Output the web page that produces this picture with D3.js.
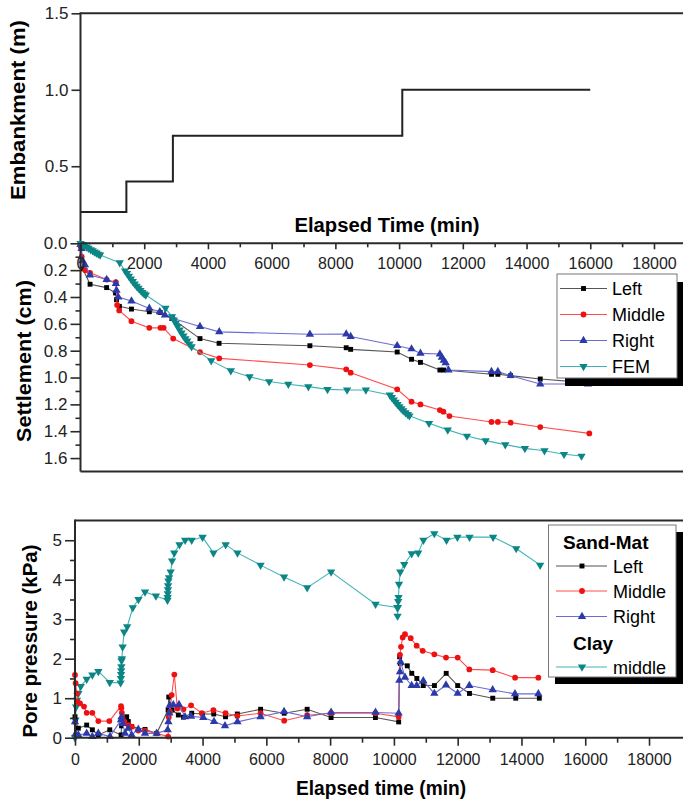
<!DOCTYPE html>
<html>
<head>
<meta charset="utf-8">
<script src="https://cdn.jsdelivr.net/npm/d3@7"></script>
<style>
  body { margin: 0; background: #fff; }
  svg { display: block; font-family: "Liberation Sans", Arial, sans-serif; }
</style>
</head>
<body>
<svg id="chart" width="683" height="805"></svg>
<script>

// ---- embankment height (top panel) ----
const embTime   = [0, 1440, 2900, 10100, 16000];
const embHeight = [0.2, 0.4, 0.7, 1.0, 1.0];

// ---- settlement (middle panel) ----
const setLeftT = [0, 70, 300, 820, 1100, 1130, 1220, 1600, 2160, 2500, 2870, 3750, 4350, 7200, 8340, 8480, 9940, 10390, 10670, 11280, 11400, 12900, 13100, 13500, 14430, 15950];
const setLeftS = [0.02, 0.19, 0.305, 0.33, 0.37, 0.42, 0.47, 0.49, 0.51, 0.515, 0.56, 0.71, 0.745, 0.763, 0.778, 0.79, 0.81, 0.864, 0.887, 0.944, 0.944, 0.976, 0.976, 0.986, 1.011, 1.04];

const setMidT = [0, 40, 150, 300, 820, 1110, 1150, 1215, 1600, 2160, 2510, 2610, 2910, 3750, 4355, 7200, 8340, 8480, 9940, 10390, 10670, 11280, 11390, 11580, 12900, 13100, 13500, 14430, 15970];
const setMidS = [0.02, 0.1, 0.2, 0.22, 0.27, 0.29, 0.46, 0.5, 0.58, 0.63, 0.63, 0.63, 0.71, 0.81, 0.857, 0.907, 0.939, 0.964, 1.088, 1.18, 1.2, 1.242, 1.254, 1.287, 1.331, 1.331, 1.336, 1.369, 1.416];

const setRightT = [0, 35, 60, 140, 295, 820, 1110, 1130, 1185, 1600, 2160, 2490, 2650, 2910, 3750, 4355, 7200, 8340, 8480, 9940, 10390, 10670, 11280, 11340, 11400, 11460, 11550, 12900, 13100, 13500, 14430, 15930];
const setRightS = [0.01, 0.04, 0.13, 0.16, 0.236, 0.27, 0.3, 0.35, 0.4, 0.43, 0.485, 0.51, 0.534, 0.56, 0.62, 0.66, 0.678, 0.676, 0.695, 0.763, 0.787, 0.82, 0.825, 0.85, 0.872, 0.89, 0.944, 0.956, 0.956, 0.986, 1.048, 1.048];

const setFemT = [0, 60, 120, 190, 250, 320, 380, 440, 500, 560, 615, 1230, 1400, 1460, 1520, 1580, 1640, 1700, 1760, 1820, 1880, 1940, 2000, 2050, 2667, 2870, 2930, 2990, 3050, 3110, 3170, 3230, 3290, 3350, 3420, 3487, 4102, 4718, 5306, 5921, 6523, 7152, 7753, 8368, 8957, 9709, 9770, 9830, 9890, 9950, 10010, 10070, 10130, 10200, 10270, 10324, 10940, 11527, 12129, 12717, 13332, 13948, 14563, 15178, 15725];
const setFemS = [0, 0.008, 0.017, 0.027, 0.036, 0.047, 0.055, 0.064, 0.072, 0.08, 0.087, 0.144, 0.205, 0.225, 0.245, 0.265, 0.284, 0.302, 0.32, 0.335, 0.35, 0.365, 0.377, 0.385, 0.484, 0.546, 0.57, 0.595, 0.62, 0.645, 0.668, 0.69, 0.71, 0.728, 0.75, 0.77, 0.874, 0.949, 0.994, 1.03, 1.05, 1.068, 1.088, 1.093, 1.093, 1.13, 1.148, 1.166, 1.183, 1.2, 1.216, 1.232, 1.247, 1.262, 1.275, 1.285, 1.341, 1.39, 1.436, 1.47, 1.5, 1.528, 1.545, 1.572, 1.585];

// ---- pore pressure (bottom panel) ----
const ppLeftT = [0, 10, 105, 366, 544, 732, 1090, 1445, 1460, 1515, 1620, 1672, 1777, 2195, 2560, 2920, 2940, 3044, 3240, 3400, 3660, 4000, 4350, 4720, 5090, 5820, 6560, 7280, 8030, 9420, 10150, 10180, 10200, 10420, 10560, 10720, 10920, 11270, 11640, 12000, 12370, 13100, 13820, 14560];
const ppLeftP = [0.53, 0.4, 0.24, 0.32, 0.2, 0.07, 0.2, 0.07, 0.3, 0.45, 0.53, 0.41, 0.28, 0.21, 0.11, 0.7, 1.03, 0.7, 0.575, 0.52, 0.62, 0.6, 0.6, 0.53, 0.6, 0.72, 0.62, 0.72, 0.51, 0.51, 0.4, 2.05, 1.88, 1.82, 1.63, 1.5, 1.32, 1.32, 1.63, 1.32, 1.12, 1.0, 1.0, 1.0];

const ppMidT = [0, 20, 52, 84, 157, 282, 366, 544, 732, 1076, 1443, 1455, 1470, 1494, 1547, 1672, 1777, 1985, 2195, 2560, 2920, 2940, 2980, 3031, 3115, 3209, 3400, 3640, 3975, 4340, 4720, 5090, 5820, 6560, 7280, 8030, 9420, 10150, 10190, 10223, 10276, 10348, 10527, 10714, 10903, 11268, 11634, 12000, 12365, 13097, 13800, 14530];
const ppMidP = [1.59, 1.38, 1.12, 0.91, 0.87, 0.79, 0.63, 0.63, 0.42, 0.42, 0.8, 0.75, 0.63, 0.49, 0.41, 0.32, 0.28, 0.18, 0.18, 0.11, 0.03, 0.52, 0.66, 1.08, 1.6, 0.74, 0.72, 0.82, 0.62, 0.7, 0.62, 0.55, 0.62, 0.43, 0.57, 0.62, 0.62, 0.53, 2.1, 2.3, 2.54, 2.62, 2.52, 2.33, 2.2, 2.11, 2.03, 2.03, 1.73, 1.71, 1.52, 1.52];

const ppRightT = [0, 20, 105, 366, 544, 732, 1097, 1443, 1460, 1494, 1568, 1672, 1777, 1985, 2195, 2560, 2906, 2930, 2958, 2970, 3082, 3261, 3449, 3638, 4023, 4359, 4704, 5094, 5818, 6556, 7280, 8031, 9424, 10148, 10170, 10191, 10210, 10348, 10557, 10714, 10922, 11268, 11634, 12000, 12365, 13097, 13797, 14530];
const ppRightP = [0.4, 0.1, 0.07, 0.11, 0.03, 0.11, 0.03, 0.45, 0.53, 0.36, 0.11, 0.24, 0.07, 0.21, 0.11, 0.11, 0.2, 0.4, 0.62, 0.82, 0.83, 0.84, 0.53, 0.54, 0.51, 0.41, 0.3, 0.4, 0.53, 0.66, 0.53, 0.64, 0.64, 0.62, 1.45, 1.67, 1.92, 1.53, 1.32, 1.32, 1.44, 1.12, 1.33, 1.12, 1.32, 1.21, 1.11, 1.11];

const ppClayT = [0, 15, 35, 60, 105, 180, 366, 544, 732, 1090, 1430, 1440, 1445, 1450, 1455, 1460, 1470, 1494, 1540, 1636, 1812, 1990, 2195, 2537, 2900, 2905, 2910, 2915, 2920, 2930, 2950, 3000, 3044, 3112, 3276, 3454, 3659, 4000, 4342, 4725, 5094, 5818, 6556, 7280, 8031, 9424, 10107, 10115, 10125, 10135, 10145, 10160, 10200, 10326, 10557, 10762, 10926, 11267, 11650, 11991, 12373, 13111, 13835, 14586];
const ppClayP = [0, 0.45, 0.78, 0.95, 1.12, 1.3, 1.48, 1.59, 1.68, 1.4, 1.39, 1.5, 1.6, 1.7, 1.8, 1.95, 2.0, 2.3, 2.68, 2.81, 3.29, 3.5, 3.69, 3.59, 3.48, 3.55, 3.65, 3.75, 3.85, 3.97, 4.05, 4.2, 4.48, 4.68, 4.89, 5.0, 5.0, 5.08, 4.68, 4.89, 4.68, 4.37, 4.07, 3.8, 4.2, 3.38, 3.3, 3.08, 3.3, 3.45, 3.55, 3.89, 4.2, 4.39, 4.66, 4.68, 5.0, 5.17, 5.0, 5.08, 5.08, 5.08, 4.79, 4.37];

// ---- tick labels ----
const timeTicks = d3.range(0, 18001, 2000);
const embTicks = [0.5, 1.0, 1.5];
const setTicks = d3.range(0, 1.61, 0.2);
const ppTicks = [0, 1, 2, 3, 4, 5];

const zip = (t, v) => t.map((d, i) => [d, v[i]]);

const styles = {
  left:   { marker: "#000000", line: "#555555", sym: d3.symbolSquare,   size: 24, rot: 0 },
  middle: { marker: "#ee1111", line: "#ff4d4d", sym: d3.symbolCircle,   size: 26, rot: 0 },
  right:  { marker: "#2b3aa8", line: "#6b6bd0", sym: d3.symbolTriangle, size: 30, rot: 0 },
  fem:    { marker: "#0c8585", line: "#40b4b4", sym: d3.symbolTriangle, size: 30, rot: 180 }
};

const svg = d3.select("#chart");
const axisColor = "#2a2a2a";

// scales
const xA = d3.scaleLinear().domain([0, 19500]).range([80.5, 80.5 + 19500 * 0.03186]);
const xB = d3.scaleLinear().domain([0, 19500]).range([75, 75 + 19500 * 0.03189]);
const yEmb = d3.scaleLinear().domain([0, 1.5]).range([242.7, 13.3]);
const ySet = d3.scaleLinear().domain([0, 1.7]).range([243.3, 471.5]);
const yPP = d3.scaleLinear().domain([0, 5.5]).range([737.7, 520.5]);

function styleAxis(g, size) {
  g.select(".domain").remove();
  g.selectAll(".tick line").attr("stroke", axisColor).attr("stroke-width", 1.6);
  g.selectAll(".tick text").attr("font-size", size || 16).attr("fill", "#222")
    .attr("font-family", "'Liberation Sans', Arial, sans-serif");
}

function frameLine(x1, y1, x2, y2) {
  svg.append("line").attr("x1", x1).attr("y1", y1).attr("x2", x2).attr("y2", y2)
    .attr("stroke", axisColor).attr("stroke-width", 2);
}

function yTitle(text, cx, cy, len) {
  svg.append("text")
    .attr("transform", `translate(${cx},${cy}) rotate(-90)`)
    .attr("text-anchor", "middle")
    .attr("font-size", 20).attr("font-weight", "bold")
    .attr("textLength", len).attr("lengthAdjust", "spacingAndGlyphs")
    .text(text);
}

function drawSeries(g, data, st, x, y) {
  const line = d3.line().x(d => x(d[0])).y(d => y(d[1]));
  g.append("path").datum(data)
    .attr("fill", "none").attr("stroke", st.line).attr("stroke-width", 1.1)
    .attr("d", line);
  const sym = d3.symbol().type(st.sym).size(st.size);
  g.selectAll(null).data(data).enter().append("path")
    .attr("d", sym)
    .attr("fill", st.marker)
    .attr("transform", d => `translate(${x(d[0])},${y(d[1])}) rotate(${st.rot})`);
}

// ================= top panel =================
const gTop = svg.append("g");
gTop.append("path").datum(zip(embTime, embHeight))
  .attr("fill", "none").attr("stroke", "#222").attr("stroke-width", 2)
  .attr("d", d3.line().curve(d3.curveStepAfter).x(d => xA(d[0])).y(d => yEmb(d[1])));

svg.append("g").attr("transform", `translate(${xA(0)},0)`)
  .call(d3.axisLeft(yEmb).tickValues(embTicks).tickSize(9).tickPadding(3).tickFormat(d3.format(".1f")))
  .call(g => styleAxis(g, 17));
frameLine(xA(0), yEmb(1.5), 683, yEmb(1.5));
frameLine(xA(0), yEmb(1.5) - 1, xA(0), yEmb(0));

svg.append("text").attr("x", 387).attr("y", 232).attr("text-anchor", "middle")
  .attr("font-size", 20).attr("font-weight", "bold")
  .attr("textLength", 185).attr("lengthAdjust", "spacingAndGlyphs")
  .text("Elapsed Time (min)");
yTitle("Embankment (m)", 25, 110, 180);

// ================= middle panel =================
const gMid = svg.append("g");
drawSeries(gMid, zip(setLeftT, setLeftS), styles.left, xA, ySet);
drawSeries(gMid, zip(setMidT, setMidS), styles.middle, xA, ySet);
drawSeries(gMid, zip(setRightT, setRightS), styles.right, xA, ySet);
drawSeries(gMid, zip(setFemT, setFemS), styles.fem, xA, ySet);

svg.append("g").attr("transform", `translate(0,${ySet(0)})`)
  .call(d3.axisBottom(xA).tickValues(d3.range(1000, 19000, 2000)).tickSize(4).tickFormat(""))
  .call(g => styleAxis(g));
svg.append("g").attr("transform", `translate(0,${ySet(0)})`)
  .call(d3.axisBottom(xA).tickValues(timeTicks).tickSize(6).tickPadding(8).tickFormat(d3.format("d")))
  .call(g => styleAxis(g, 16));
svg.append("g").attr("transform", `translate(${xA(0)},0)`)
  .call(d3.axisLeft(ySet).tickValues(d3.range(0.1, 1.7, 0.2)).tickSize(5).tickFormat(""))
  .call(g => styleAxis(g));
svg.append("g").attr("transform", `translate(${xA(0)},0)`)
  .call(d3.axisLeft(ySet).tickValues(setTicks).tickSize(10).tickPadding(3).tickFormat(d3.format(".1f")))
  .call(g => styleAxis(g, 17));
frameLine(xA(0), ySet(0), 683, ySet(0));
frameLine(xA(0), ySet(0), xA(0), ySet(1.7));
frameLine(xA(0), ySet(1.7), 683, ySet(1.7));
yTitle("Settlement (cm)", 31, 361, 162);

// legend (middle)
const legA = svg.append("g");
legA.append("rect").attr("x", 565).attr("y", 282).attr("width", 120).attr("height", 104).attr("fill", "#000");
legA.append("rect").attr("x", 557).attr("y", 274).attr("width", 120).attr("height", 104)
  .attr("fill", "#fff").attr("stroke", "#777").attr("stroke-width", 1);
const legAItems = [["Left", styles.left], ["Middle", styles.middle], ["Right", styles.right], ["FEM", styles.fem]];
legAItems.forEach((it, i) => {
  const y = 288.5 + i * 26;
  legA.append("line").attr("x1", 560).attr("x2", 607).attr("y1", y).attr("y2", y)
    .attr("stroke", it[1].line).attr("stroke-width", 1.2);
  legA.append("path").attr("d", d3.symbol().type(it[1].sym).size(it[1].size))
    .attr("fill", it[1].marker).attr("transform", `translate(583.5,${y}) rotate(${it[1].rot})`);
  legA.append("text").attr("x", 612).attr("y", y + 6.5).attr("font-size", 18).text(it[0]);
});

// ================= bottom panel =================
const gBot = svg.append("g");
drawSeries(gBot, zip(ppClayT, ppClayP), styles.fem, xB, yPP);
drawSeries(gBot, zip(ppLeftT, ppLeftP), styles.left, xB, yPP);
drawSeries(gBot, zip(ppMidT, ppMidP), styles.middle, xB, yPP);
drawSeries(gBot, zip(ppRightT, ppRightP), styles.right, xB, yPP);

svg.append("g").attr("transform", `translate(0,${yPP(0)})`)
  .call(d3.axisBottom(xB).tickValues(d3.range(1000, 19000, 2000)).tickSize(5).tickFormat(""))
  .call(g => styleAxis(g));
svg.append("g").attr("transform", `translate(0,${yPP(0)})`)
  .call(d3.axisBottom(xB).tickValues(timeTicks).tickSize(8).tickPadding(8).tickFormat(d3.format("d")))
  .call(g => styleAxis(g, 16));
svg.append("g").attr("transform", `translate(${xB(0)},0)`)
  .call(d3.axisLeft(yPP).tickValues(d3.range(0.5, 5.5, 1)).tickSize(5).tickFormat(""))
  .call(g => styleAxis(g));
svg.append("g").attr("transform", `translate(${xB(0)},0)`)
  .call(d3.axisLeft(yPP).tickValues(ppTicks).tickSize(10).tickPadding(3).tickFormat(d3.format("d")))
  .call(g => styleAxis(g, 17));
frameLine(xB(0), yPP(5.5), 683, yPP(5.5));
frameLine(xB(0), yPP(5.5) - 1, xB(0), yPP(0));
frameLine(xB(0), yPP(0), 683, yPP(0));

svg.append("text").attr("x", 381).attr("y", 795).attr("text-anchor", "middle")
  .attr("font-size", 20).attr("font-weight", "bold")
  .attr("textLength", 170).attr("lengthAdjust", "spacingAndGlyphs")
  .text("Elapsed time (min)");
yTitle("Pore pressure (kPa)", 37, 641, 193);

// legend (bottom)
const legB = svg.append("g");
legB.append("rect").attr("x", 555).attr("y", 532).attr("width", 128).attr("height", 152).attr("fill", "#000");
legB.append("rect").attr("x", 548.5).attr("y", 525).attr("width", 127.5).attr("height", 152)
  .attr("fill", "#fff").attr("stroke", "#777").attr("stroke-width", 1);
legB.append("text").attr("x", 563).attr("y", 548.5).attr("font-size", 19).attr("font-weight", "bold").text("Sand-Mat");
legB.append("text").attr("x", 573).attr("y", 649.5).attr("font-size", 19).attr("font-weight", "bold").text("Clay");
const legBItems = [["Left", styles.left, 566], ["Middle", styles.middle, 591], ["Right", styles.right, 616.5], ["middle", styles.fem, 667]];
legBItems.forEach(it => {
  const y = it[2];
  legB.append("line").attr("x1", 556).attr("x2", 607).attr("y1", y).attr("y2", y)
    .attr("stroke", it[1].line).attr("stroke-width", 1.2);
  legB.append("path").attr("d", d3.symbol().type(it[1].sym).size(it[1].size))
    .attr("fill", it[1].marker).attr("transform", `translate(582,${y}) rotate(${it[1].rot})`);
  legB.append("text").attr("x", 613).attr("y", y + 6.5).attr("font-size", 18).text(it[0]);
});
</script>
</body>
</html>
